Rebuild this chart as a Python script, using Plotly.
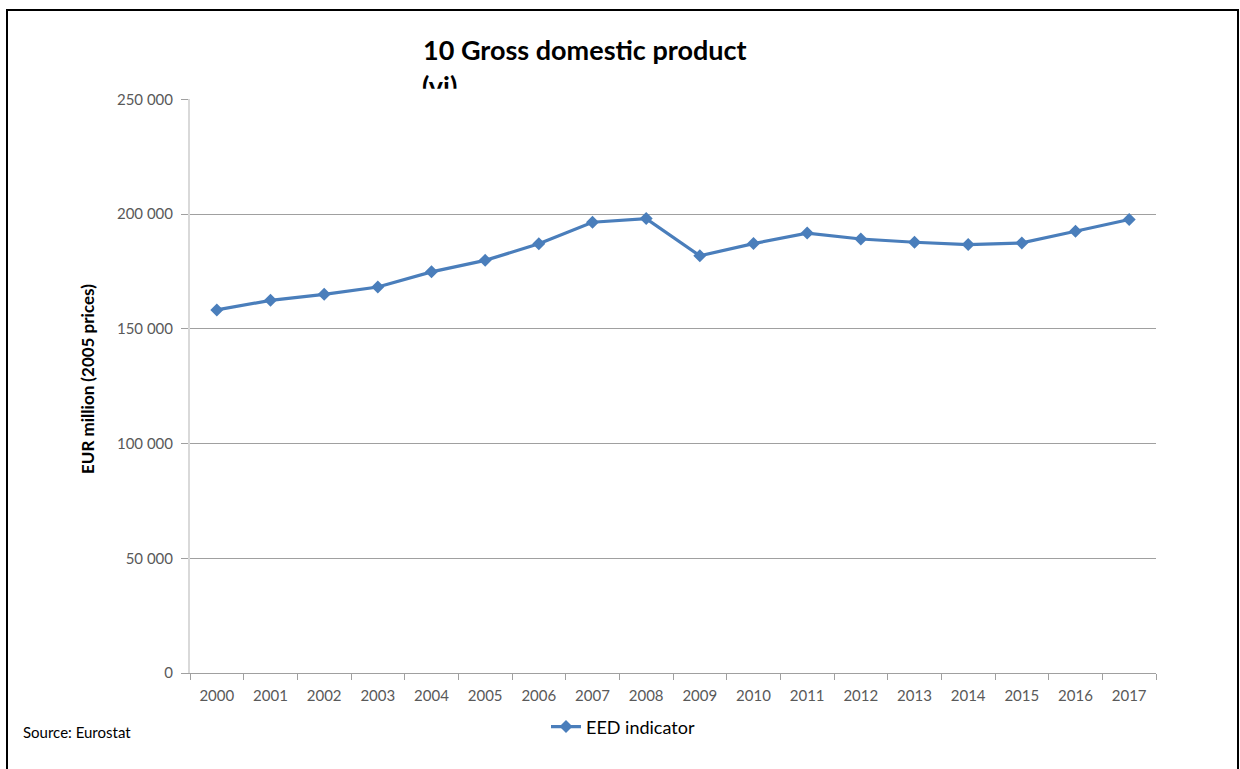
import plotly.graph_objects as go

# Gross domestic product, EUR million at 2005 prices
years = [str(y) for y in range(2000, 2018)]
gdp = [158200, 162400, 165000, 168200, 174800, 179800, 187000, 196400, 198000,
       181800, 187100, 191700, 189100, 187700, 186700, 187400, 192500, 197600]

y_tick_values = [0, 50000, 100000, 150000, 200000, 250000]
y_tick_labels = ["0", "50 000", "100 000", "150 000", "200 000", "250 000"]

series_name = "EED indicator"
title_line1 = "10 Gross domestic product"
title_line2 = "(vi)"
y_title = "EUR million (2005 prices)"
source_note = "Source: Eurostat"

W, H = 1240, 769
M_L, M_R, M_T, M_B = 190, 84, 20, 96
PLOT_TOP = 97.5
CLIP_BOTTOM, CLIP_TOP = 87, 60


def px_x(px):
    return (px - M_L) / (W - M_L - M_R)


def px_y(py):
    return (H - M_B - py) / (H - M_T - M_B)


FONT = "Lato, 'Open Sans', sans-serif"
BLUE = "#4A7EBB"
TICK_GREY = "#595959"
GRID = "#A0A0A0"

fig = go.Figure()

fig.add_trace(go.Scatter(
    x=years, y=gdp, name=series_name, mode="lines+markers",
    line=dict(color=BLUE, width=3.2),
    marker=dict(symbol="diamond", size=10, color=BLUE),
    xaxis="x", yaxis="y",
))

# Second title line, cut off just above the plot frame
fig.add_trace(go.Scatter(
    x=[px_x(422)], y=[(CLIP_BOTTOM - 87) / (CLIP_BOTTOM - CLIP_TOP)],
    mode="text", text=[title_line2],
    textposition="middle right", cliponaxis=True, showlegend=False,
    hoverinfo="skip",
    textfont=dict(family=FONT, size=27, color="black", weight="bold"),
    xaxis="x2", yaxis="y2",
))

fig.update_layout(
    width=W, height=H,
    margin=dict(l=M_L, r=M_R, t=M_T, b=M_B),
    paper_bgcolor="white", plot_bgcolor="white",
    font=dict(family=FONT, color=TICK_GREY, size=15),
    xaxis=dict(
        type="category", range=[-0.5, len(years) - 0.5],
        showgrid=False, showline=True, linecolor=GRID, linewidth=1,
        ticks="outside", tickson="boundaries", ticklen=6, tickcolor=GRID,
        tickfont=dict(size=15, color=TICK_GREY), ticklabelstandoff=9,
        anchor="y",
    ),
    yaxis=dict(
        domain=[0, px_y(PLOT_TOP)],
        range=[0, 250000], tickvals=y_tick_values, ticktext=y_tick_labels,
        showgrid=True, gridcolor=GRID, gridwidth=1,
        showline=True, linecolor="#D9D9D9", linewidth=2,
        ticks="outside", ticklen=7, tickcolor=GRID,
        tickfont=dict(size=15, color=TICK_GREY), ticklabelstandoff=5,
        zeroline=False, anchor="x",
    ),
    xaxis2=dict(domain=[0, 1], range=[0, 1], visible=False, anchor="y2",
                fixedrange=True),
    yaxis2=dict(domain=[px_y(CLIP_BOTTOM), px_y(CLIP_TOP)], range=[0, 1],
                visible=False, anchor="x2", fixedrange=True),
    showlegend=True,
    legend=dict(
        orientation="h", x=px_x(546), xanchor="left", y=px_y(727),
        yanchor="middle", bgcolor="rgba(0,0,0,0)",
        font=dict(size=18, color="black"),
        itemwidth=30,
    ),
)

fig.add_annotation(
    x=px_x(421), y=px_y(48), xref="paper", yref="paper",
    xanchor="left", yanchor="middle", showarrow=False,
    text=title_line1,
    font=dict(family=FONT, size=27, color="black", weight="bold"),
)

fig.add_annotation(
    x=px_x(88), y=px_y(378), xref="paper", yref="paper",
    xanchor="center", yanchor="middle", showarrow=False, textangle=-90,
    text=y_title,
    font=dict(family=FONT, size=17, color="black", weight="bold"),
)

fig.add_annotation(
    x=px_x(21), y=px_y(732), xref="paper", yref="paper",
    xanchor="left", yanchor="middle", showarrow=False,
    text=source_note,
    font=dict(family=FONT, size=15, color="black"),
)

# Outer frame
fig.add_shape(
    type="rect", xref="paper", yref="paper",
    x0=px_x(7), x1=px_x(1238), y0=px_y(780), y1=px_y(8),
    line=dict(color="black", width=2), fillcolor="rgba(0,0,0,0)",
    layer="above",
)

fig.write_html("out.html")
